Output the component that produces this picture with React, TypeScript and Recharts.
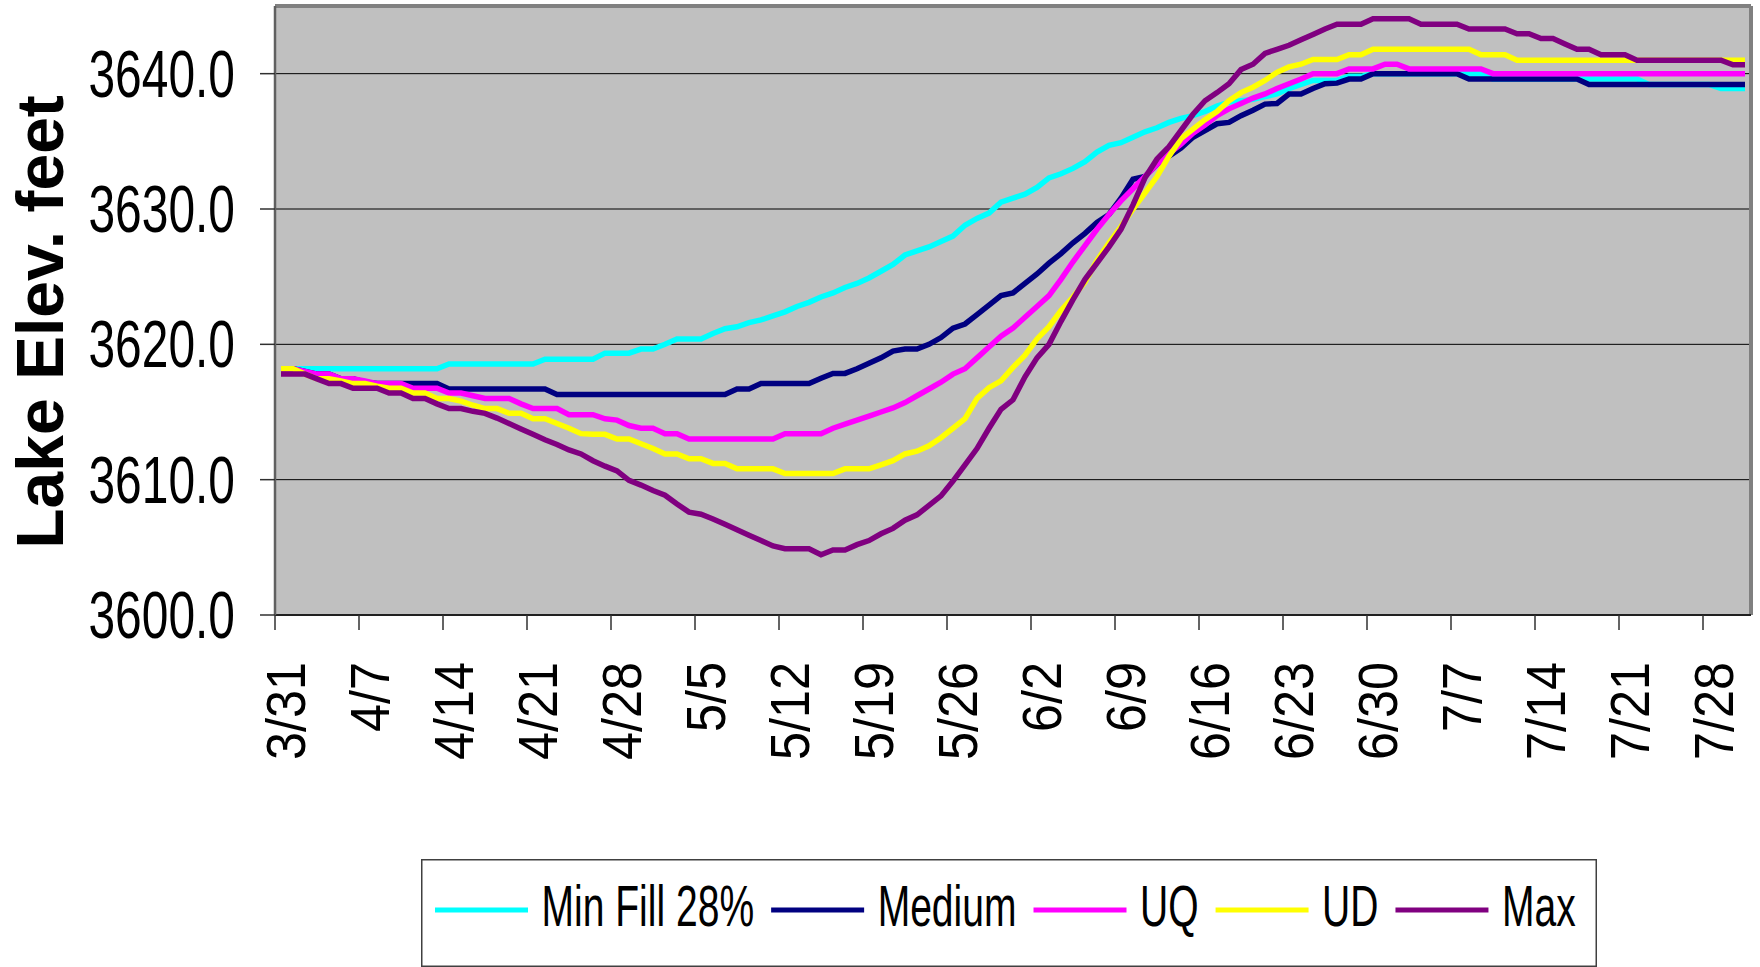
import React from 'react';
import { LineChart, Line, XAxis, YAxis, CartesianGrid, Legend, ReferenceLine } from 'recharts';

const dates = [
  '3/31',
  '4/1', '4/2', '4/3', '4/4', '4/5', '4/6', '4/7', '4/8', '4/9', '4/10',
  '4/11', '4/12', '4/13', '4/14', '4/15', '4/16', '4/17', '4/18', '4/19', '4/20',
  '4/21', '4/22', '4/23', '4/24', '4/25', '4/26', '4/27', '4/28', '4/29', '4/30',
  '5/1', '5/2', '5/3', '5/4', '5/5', '5/6', '5/7', '5/8', '5/9', '5/10',
  '5/11', '5/12', '5/13', '5/14', '5/15', '5/16', '5/17', '5/18', '5/19', '5/20',
  '5/21', '5/22', '5/23', '5/24', '5/25', '5/26', '5/27', '5/28', '5/29', '5/30', '5/31',
  '6/1', '6/2', '6/3', '6/4', '6/5', '6/6', '6/7', '6/8', '6/9', '6/10',
  '6/11', '6/12', '6/13', '6/14', '6/15', '6/16', '6/17', '6/18', '6/19', '6/20',
  '6/21', '6/22', '6/23', '6/24', '6/25', '6/26', '6/27', '6/28', '6/29', '6/30',
  '7/1', '7/2', '7/3', '7/4', '7/5', '7/6', '7/7', '7/8', '7/9', '7/10',
  '7/11', '7/12', '7/13', '7/14', '7/15', '7/16', '7/17', '7/18', '7/19', '7/20',
  '7/21', '7/22', '7/23', '7/24', '7/25', '7/26', '7/27', '7/28', '7/29', '7/30', '7/31',
];

const tickLabels = ['3/31', '4/7', '4/14', '4/21', '4/28', '5/5', '5/12', '5/19', '5/26', '6/2', '6/9', '6/16', '6/23', '6/30', '7/7', '7/14', '7/21', '7/28'];
const yTicks = [3600, 3610, 3620, 3630, 3640];
const yDomain = [3600, 3645];

const seriesNames = ['Min Fill 28%', 'Medium', 'UQ', 'UD', 'Max'];

// Min Fill 28%
const minFill = [
  3618.2, 3618.2, 3618.2, 3618.2, 3618.2, 3618.2, 3618.2, 3618.2, 3618.2, 3618.2,
  3618.2, 3618.2, 3618.2, 3618.2, 3618.55, 3618.55, 3618.55, 3618.55, 3618.55, 3618.55,
  3618.55, 3618.55, 3618.9, 3618.9, 3618.9, 3618.9, 3618.9, 3619.35, 3619.35, 3619.35,
  3619.65, 3619.65, 3620.0, 3620.4, 3620.4, 3620.4, 3620.8, 3621.15, 3621.3, 3621.6,
  3621.8, 3622.1, 3622.4, 3622.8, 3623.1, 3623.5, 3623.8, 3624.2, 3624.5, 3624.9,
  3625.4, 3625.9, 3626.6, 3626.9, 3627.2, 3627.6, 3628.0, 3628.8, 3629.3, 3629.7,
  3630.5, 3630.8, 3631.1, 3631.6, 3632.3, 3632.6, 3633.0, 3633.5, 3634.2, 3634.7,
  3634.9, 3635.3, 3635.7, 3636.0, 3636.4, 3636.7, 3636.9, 3637.2, 3637.6, 3637.9,
  3638.0, 3638.1, 3638.3, 3638.5, 3638.9, 3639.2, 3639.5, 3639.5, 3639.5, 3639.8,
  3639.8, 3640.0, 3640.0, 3640.0, 3640.0, 3640.0, 3640.0, 3640.0, 3640.0, 3640.0,
  3640.0, 3639.6, 3639.6, 3639.6, 3639.6, 3639.6, 3639.6, 3639.6, 3639.6, 3639.6,
  3639.6, 3639.6, 3639.6, 3639.6, 3639.2, 3639.2, 3639.2, 3639.2, 3639.2, 3639.2,
  3638.9, 3638.9, 3638.9,
];

// Medium
const medium = [
  3618.2, 3618.2, 3618.0, 3617.8, 3617.8, 3617.45, 3617.45, 3617.2, 3617.1, 3617.1,
  3617.1, 3617.1, 3617.1, 3617.1, 3616.7, 3616.7, 3616.7, 3616.7, 3616.7, 3616.7,
  3616.7, 3616.7, 3616.7, 3616.3, 3616.3, 3616.3, 3616.3, 3616.3, 3616.3, 3616.3,
  3616.3, 3616.3, 3616.3, 3616.3, 3616.3, 3616.3, 3616.3, 3616.3, 3616.7, 3616.7,
  3617.1, 3617.1, 3617.1, 3617.1, 3617.1, 3617.5, 3617.85, 3617.85, 3618.2, 3618.6,
  3619.0, 3619.5, 3619.65, 3619.65, 3620.0, 3620.5, 3621.2, 3621.5, 3622.2, 3622.9,
  3623.6, 3623.8, 3624.5, 3625.2, 3626.0, 3626.7, 3627.5, 3628.2, 3629.0, 3629.6,
  3630.8, 3632.2, 3632.4, 3633.3, 3633.9, 3634.5, 3635.3, 3635.8, 3636.3, 3636.4,
  3636.9, 3637.3, 3637.75, 3637.8, 3638.5, 3638.5, 3638.9, 3639.25, 3639.3, 3639.6,
  3639.6, 3640.0, 3640.0, 3640.0, 3640.0, 3640.0, 3640.0, 3640.0, 3640.0, 3639.6,
  3639.6, 3639.6, 3639.6, 3639.6, 3639.6, 3639.6, 3639.6, 3639.6, 3639.6, 3639.2,
  3639.2, 3639.2, 3639.2, 3639.2, 3639.2, 3639.2, 3639.2, 3639.2, 3639.2, 3639.2,
  3639.2, 3639.2, 3639.2,
];

// UQ
const uq = [
  3618.2, 3618.2, 3618.0, 3617.8, 3617.8, 3617.45, 3617.45, 3617.3, 3617.1, 3617.1,
  3617.1, 3616.75, 3616.75, 3616.75, 3616.4, 3616.4, 3616.2, 3616.0, 3616.0, 3616.0,
  3615.6, 3615.25, 3615.25, 3615.25, 3614.8, 3614.8, 3614.8, 3614.5, 3614.4, 3614.0,
  3613.8, 3613.8, 3613.4, 3613.4, 3613.0, 3613.0, 3613.0, 3613.0, 3613.0, 3613.0,
  3613.0, 3613.0, 3613.4, 3613.4, 3613.4, 3613.4, 3613.8, 3614.1, 3614.4, 3614.7,
  3615.0, 3615.3, 3615.7, 3616.2, 3616.7, 3617.2, 3617.8, 3618.2, 3619.0, 3619.8,
  3620.6, 3621.2, 3622.0, 3622.8, 3623.6, 3624.8, 3626.1, 3627.3, 3628.5, 3629.6,
  3630.6, 3631.5, 3632.4, 3633.3, 3634.1, 3634.8, 3635.6, 3636.2, 3636.9, 3637.4,
  3637.8, 3638.2, 3638.5, 3638.9, 3639.25, 3639.6, 3640.0, 3640.0, 3640.0, 3640.35,
  3640.35, 3640.35, 3640.7, 3640.7, 3640.35, 3640.35, 3640.35, 3640.35, 3640.35, 3640.35,
  3640.35, 3640.0, 3640.0, 3640.0, 3640.0, 3640.0, 3640.0, 3640.0, 3640.0, 3640.0,
  3640.0, 3640.0, 3640.0, 3640.0, 3640.0, 3640.0, 3640.0, 3640.0, 3640.0, 3640.0,
  3640.0, 3640.0, 3640.0,
];

// UD
const ud = [
  3618.2, 3618.2, 3617.8, 3617.45, 3617.45, 3617.3, 3617.1, 3617.1, 3616.9, 3616.75,
  3616.75, 3616.4, 3616.4, 3616.0, 3616.0, 3615.8, 3615.5, 3615.25, 3615.25, 3614.9,
  3614.9, 3614.5, 3614.5, 3614.15, 3613.8, 3613.4, 3613.35, 3613.35, 3613.0, 3613.0,
  3612.65, 3612.3, 3611.9, 3611.9, 3611.55, 3611.55, 3611.2, 3611.2, 3610.8, 3610.8,
  3610.8, 3610.8, 3610.45, 3610.45, 3610.45, 3610.45, 3610.45, 3610.8, 3610.8, 3610.8,
  3611.1, 3611.4, 3611.9, 3612.1, 3612.5, 3613.1, 3613.8, 3614.5, 3616.0, 3616.8,
  3617.3, 3618.3, 3619.2, 3620.4, 3621.3, 3622.5, 3623.5, 3624.6, 3626.2, 3627.5,
  3628.7, 3630.0, 3631.2, 3632.4, 3633.9, 3635.2, 3635.9, 3636.6, 3637.2, 3638.0,
  3638.6, 3639.0, 3639.5, 3640.1, 3640.5, 3640.7, 3641.05, 3641.05, 3641.05, 3641.4,
  3641.4, 3641.8, 3641.8, 3641.8, 3641.8, 3641.8, 3641.8, 3641.8, 3641.8, 3641.8,
  3641.4, 3641.4, 3641.4, 3641.0, 3641.0, 3641.0, 3641.0, 3641.0, 3641.0, 3641.0,
  3641.0, 3641.0, 3641.0, 3641.0, 3641.0, 3641.0, 3641.0, 3641.0, 3641.0, 3641.0,
  3641.0, 3641.0, 3641.0,
];

// Max
const maxS = [
  3617.8, 3617.8, 3617.8, 3617.45, 3617.1, 3617.1, 3616.75, 3616.75, 3616.75, 3616.4,
  3616.4, 3616.0, 3616.0, 3615.6, 3615.25, 3615.25, 3615.05, 3614.9, 3614.55, 3614.15,
  3613.75, 3613.35, 3612.95, 3612.6, 3612.2, 3611.9, 3611.4, 3611.0, 3610.65, 3609.95,
  3609.6, 3609.2, 3608.85, 3608.2, 3607.6, 3607.45, 3607.1, 3606.7, 3606.3, 3605.9,
  3605.5, 3605.1, 3604.9, 3604.9, 3604.9, 3604.45, 3604.8, 3604.8, 3605.2, 3605.5,
  3606.0, 3606.4, 3607.0, 3607.4, 3608.1, 3608.8, 3609.9, 3611.1, 3612.3, 3613.8,
  3615.2, 3615.9, 3617.6, 3619.0, 3620.0, 3621.7, 3623.3, 3624.8, 3626.0, 3627.2,
  3628.5, 3630.3, 3632.3, 3633.7, 3634.6, 3635.8, 3637.0, 3638.0, 3638.6, 3639.25,
  3640.3, 3640.7, 3641.5, 3641.8, 3642.1, 3642.5, 3642.9, 3643.3, 3643.65, 3643.65,
  3643.65, 3644.05, 3644.05, 3644.05, 3644.05, 3643.65, 3643.65, 3643.65, 3643.65, 3643.3,
  3643.3, 3643.3, 3643.3, 3642.95, 3642.95, 3642.6, 3642.6, 3642.2, 3641.8, 3641.8,
  3641.4, 3641.4, 3641.4, 3641.0, 3641.0, 3641.0, 3641.0, 3641.0, 3641.0, 3641.0,
  3641.0, 3640.65, 3640.65,
];

const colors = ['#00FFFF', '#000080', '#FF00FF', '#FFFF00', '#800080'];
const keys = ['minFill', 'medium', 'uq', 'ud', 'max'];
const seriesData = [minFill, medium, uq, ud, maxS];

const rows = dates.map((d, i) => {
  const r: any = { date: d, x: i + 0.5 };
  keys.forEach((k, j) => {
    r[k] = seriesData[j][i];
  });
  return r;
});

const tickDays = tickLabels.map((l) => dates.indexOf(l));

const SANS = "'Liberation Sans', Arial, sans-serif";

let ctx: CanvasRenderingContext2D | null = null;
const measure = (t: string, font: string) => {
  if (typeof document === 'undefined') return t.length * 30;
  if (!ctx) ctx = document.createElement('canvas').getContext('2d');
  if (!ctx) return t.length * 30;
  ctx.font = font;
  return ctx.measureText(t).width;
};

const YTick = (props: any) => {
  const { x, y, payload } = props;
  return (
    <text
      transform={`translate(${x},${y + 23}) scale(0.715,1)`}
      textAnchor="end"
      fontFamily={SANS}
      fontSize={67}
      fill="#000"
    >
      {Number(payload.value).toFixed(1)}
    </text>
  );
};

const XTick = (props: any) => {
  const { x, y, payload } = props;
  const label = dates[payload.value] ?? '';
  return (
    <text
      transform={`translate(${x + 30},${y}) rotate(-90) scale(0.9,1)`}
      textAnchor="end"
      fontFamily={SANS}
      fontSize={56}
      fill="#000"
    >
      {label}
    </text>
  );
};

const LEG_FONT_SIZE = 57;
const LEG_SCALE = 0.685;

const LegendBox = (props: any) => {
  const payload = [...(props.payload || [])].sort(
    (a: any, b: any) => seriesNames.indexOf(String(a.value)) - seriesNames.indexOf(String(b.value)),
  );
  let cx = 14;
  const items = payload.map((p: any) => {
    const w = measure(String(p.value), `${LEG_FONT_SIZE}px ${SANS}`) * LEG_SCALE;
    const it = { x: cx, w, p };
    cx += 93 + 13.5 + w + 17;
    return it;
  });
  return (
    <svg width={1176} height={108} style={{ display: 'block' }}>
      <rect x={0.75} y={0.75} width={1174.5} height={106.5} fill="#FFFFFF" stroke="#404040" strokeWidth={1.5} />
      {items.map((it: any, i: number) => (
        <g key={i}>
          <line x1={it.x} x2={it.x + 93} y1={51} y2={51} stroke={it.p.color} strokeWidth={5} />
          <text
            transform={`translate(${it.x + 106.5},67) scale(${LEG_SCALE},1)`}
            fontFamily={SANS}
            fontSize={LEG_FONT_SIZE}
            fill="#000"
          >
            {it.p.value}
          </text>
        </g>
      ))}
    </svg>
  );
};

const YLabel = () => (
  <text
    transform="translate(63,322) rotate(-90)"
    textAnchor="middle"
    fontFamily={SANS}
    fontWeight="bold"
    fontSize={66}
    fill="#000"
  >
    Lake Elev. feet
  </text>
);

export default function App() {
  return (
    <div style={{ position: 'absolute', left: 0, top: 0 }}>
      <LineChart width={1760} height={967} data={rows} margin={{ top: 6, right: 9, bottom: 232, left: 0 }}>
        <CartesianGrid vertical={false} fill="#C0C0C0" stroke="#000" strokeWidth={1} />
        <XAxis
          type="number"
          dataKey="x"
          domain={[0, dates.length]}
          ticks={tickDays}
          interval={0}
          allowDataOverflow
          height={120}
          tickSize={15}
          tickMargin={32}
          tick={(p: any) => <XTick {...p} />}
          axisLine={{ stroke: '#202020', strokeWidth: 2 }}
          tickLine={{ stroke: '#303030', strokeWidth: 1.5 }}
        />
        <YAxis
          type="number"
          domain={yDomain}
          ticks={yTicks}
          interval={0}
          allowDataOverflow
          width={275}
          tickSize={15}
          tickMargin={25}
          tick={(p: any) => <YTick {...p} />}
          axisLine={{ stroke: '#606060', strokeWidth: 2.5 }}
          tickLine={{ stroke: '#303030', strokeWidth: 1.5 }}
          label={{ content: () => <YLabel /> }}
        />
        <ReferenceLine y={yDomain[1]} stroke="#808080" strokeWidth={4} />
        <ReferenceLine x={dates.length} stroke="#808080" strokeWidth={4} />
        {keys.map((k, j) => (
          <Line
            key={k}
            type="linear"
            dataKey={k}
            name={seriesNames[j]}
            stroke={colors[j]}
            strokeWidth={5.5}
            dot={false}
            activeDot={false}
            isAnimationActive={false}
          />
        ))}
        <Legend
          layout="vertical"
          verticalAlign="middle"
          align="center"
          content={(p: any) => <LegendBox {...p} />}
          wrapperStyle={{ left: 421, top: 859, width: 1176, height: 108 }}
        />
      </LineChart>
    </div>
  );
}
